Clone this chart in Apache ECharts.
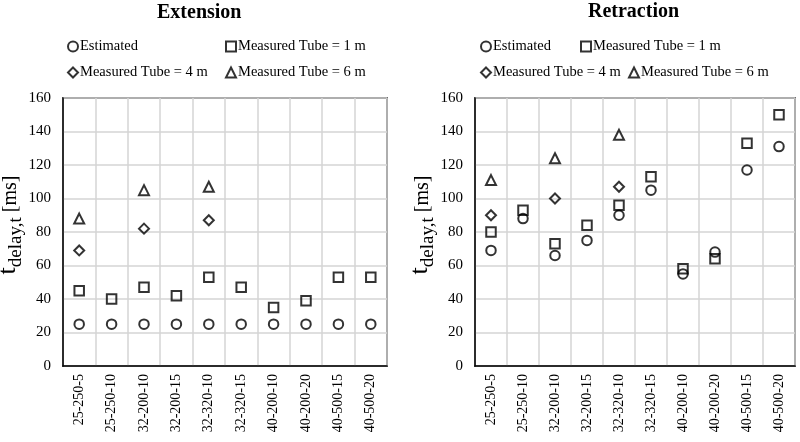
<!DOCTYPE html>
<html>
<head>
<meta charset="utf-8">
<script src="https://cdn.jsdelivr.net/npm/echarts@6/dist/echarts.min.js"></script>
<style>html,body{margin:0;padding:0;background:#fff;}#c{width:800px;height:442px;}</style>
</head>
<body>
<div id="c"></div>
<script>
const categories = ['25-250-5','25-250-10','32-200-10','32-200-15','32-320-10','32-320-15','40-200-10','40-200-20','40-500-15','40-500-20'];
const yTicks = [0,20,40,60,80,100,120,140,160];
const seriesNames = ['Estimated','Measured Tube = 1 m','Measured Tube = 4 m','Measured Tube = 6 m'];

const extEstimated = [25,25,25,25,25,25,25,25,25,25];
const extTube1 = [45,40,47,42,53,47,35,39,53,53];
const extTube4 = [69,null,82,null,87,null,null,null,null,null];
const extTube6 = [88,null,105,null,107,null,null,null,null,null];

const retEstimated = [69,88,66,75,90,105,55,68,117,131];
const retTube1 = [80,93,73,84,96,113,58,64,133,150];
const retTube4 = [90,null,100,null,107,null,null,null,null,null];
const retTube6 = [111,null,124,null,138,null,null,null,null,null];

const FONT = 'Liberation Serif';
const symbols = ['circle','rect','diamond','triangle'];
const symSizes = [9.5,9.5,10,10];

function mkSeries(idx, data, nameIdx) {
  return {
    type: 'scatter', name: seriesNames[nameIdx], xAxisIndex: idx, yAxisIndex: idx,
    data: data, symbol: symbols[nameIdx], symbolSize: symSizes[nameIdx],
    itemStyle: { color: 'rgba(255,255,255,0)', borderColor: '#000', borderWidth: 2 },
    emphasis: { disabled: true }
  };
}

function mkLegend(name, left, top) {
  return {
    data: [name], left: left, top: top, padding: 0, itemWidth: 10, itemHeight: 10,
    itemGap: 0, selectedMode: false,
    textStyle: { fontFamily: FONT, fontSize: 14.5, color: '#000', padding: [0,0,0,-3] }
  };
}

function mkX(idx) {
  return {
    type: 'category', gridIndex: idx, data: categories, boundaryGap: true,
    axisLine: { show: true, lineStyle: { color: '#000', width: 1.5 } },
    axisTick: { show: false },
    axisLabel: { rotate: 90, margin: 8, interval: 0, fontFamily: FONT, fontSize: 14, color: '#000' },
    splitLine: { show: true, interval: 0, lineStyle: { color: '#d4d4d4', width: 1.5 } }
  };
}
function mkY(idx) {
  return {
    type: 'value', gridIndex: idx, min: yTicks[0], max: yTicks[yTicks.length-1], interval: yTicks[1]-yTicks[0],
    axisLine: { show: true, lineStyle: { color: '#000', width: 1.5 } },
    axisTick: { show: false },
    axisLabel: { margin: 12, fontFamily: FONT, fontSize: 15, color: '#000' },
    splitLine: { show: true, lineStyle: { color: '#d4d4d4', width: 1.5 } },
    name: '{t|t}{s|delay,t}{m| [ms]}',
    nameLocation: 'middle', nameGap: 42, nameRotate: 90, nameMoveOverlap: false,
    nameTextStyle: {
      fontFamily: FONT, color: '#000', padding: [0,0,0,14],
      rich: {
        t: { fontFamily: FONT, fontSize: 26, color: '#000', verticalAlign: 'bottom', lineHeight: 28 },
        s: { fontFamily: FONT, fontSize: 19, color: '#000', verticalAlign: 'bottom', lineHeight: 22, padding: [0,0,-5,0] },
        m: { fontFamily: FONT, fontSize: 20, color: '#000', verticalAlign: 'bottom', lineHeight: 28 }
      }
    }
  };
}

const chart = echarts.init(document.getElementById('c'), null, { renderer: 'canvas' });
chart.setOption({
  animation: false,
  backgroundColor: '#fff',
  title: [
    { text: 'Extension', left: 157, top: 3, padding: 0, textStyle: { fontFamily: FONT, fontSize: 20, fontWeight: 'bold', color: '#000' } },
    { text: 'Retraction', left: 588, top: 2, padding: 0, textStyle: { fontFamily: FONT, fontSize: 20, fontWeight: 'bold', color: '#000' } }
  ],
  legend: [
    mkLegend(seriesNames[0], 67, 39),
    mkLegend(seriesNames[1], 225, 39),
    mkLegend(seriesNames[2], 67, 65),
    mkLegend(seriesNames[3], 225, 65),
    mkLegend(seriesNames[0], 480, 39),
    mkLegend(seriesNames[1], 580, 39),
    mkLegend(seriesNames[2], 480, 65),
    mkLegend(seriesNames[3], 628, 65)
  ],
  grid: [
    { left: 63, right: 413, top: 98, bottom: 76, outerBoundsMode: 'none', containLabel: false, show: true, borderColor: '#000', borderWidth: 1.5, backgroundColor: '#fff' },
    { left: 475, right: 5, top: 98, bottom: 76, outerBoundsMode: 'none', containLabel: false, show: true, borderColor: '#000', borderWidth: 1.5, backgroundColor: '#fff' }
  ],
  xAxis: [mkX(0), mkX(1)],
  yAxis: [mkY(0), mkY(1)],
  series: [
    mkSeries(0, extEstimated, 0), mkSeries(0, extTube1, 1), mkSeries(0, extTube4, 2), mkSeries(0, extTube6, 3),
    mkSeries(1, retEstimated, 0), mkSeries(1, retTube1, 1), mkSeries(1, retTube4, 2), mkSeries(1, retTube6, 3)
  ]
});
</script>
</body>
</html>
